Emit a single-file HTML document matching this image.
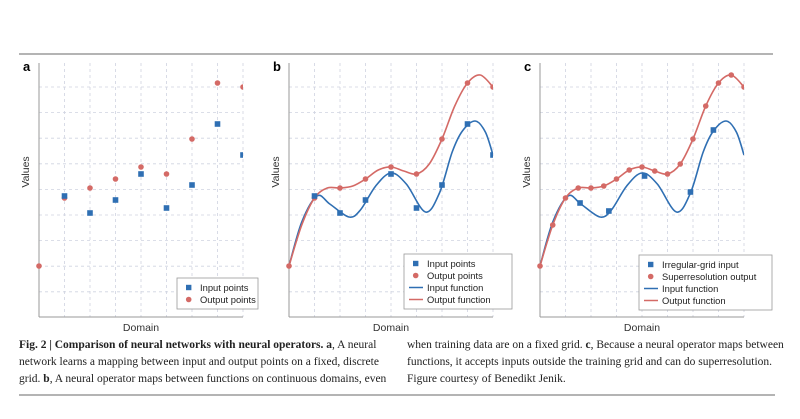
<!DOCTYPE html>
<html><head><meta charset="utf-8"><style>
body{margin:0;width:800px;height:419px;background:#fff;overflow:hidden;position:relative;font-family:"Liberation Sans",sans-serif}
svg{position:absolute;left:0;top:0}
.cap{position:absolute;font-family:"Liberation Serif",serif;font-size:11.5px;line-height:17px;color:#222;white-space:nowrap;letter-spacing:0px}
</style></head><body>
<svg id="s" width="800" height="419" xmlns="http://www.w3.org/2000/svg"></svg>
<div class="cap" style="left:19px;top:337px"><b>Fig. 2 | Comparison of neural networks with neural operators. a</b>, A neural<br>network learns a mapping between input and output points on a fixed, discrete<br>grid. <b>b</b>, A neural operator maps between functions on continuous domains, even</div>
<div class="cap" style="left:407px;top:337px">when training data are on a fixed grid. <b>c</b>, Because a neural operator maps between<br>functions, it accepts inputs outside the training grid and can do superresolution.<br>Figure courtesy of Benedikt Jenik.</div>
<script>
const s=document.getElementById('s');let h='';
const BL='#2f6fb3',RD='#d46a66';
h+='<line x1="19" y1="54" x2="773" y2="54" stroke="#888" stroke-width="1.2"/>';
h+='<line x1="19" y1="395" x2="775" y2="395" stroke="#888" stroke-width="1.2"/>';
const S=25.5,T=63,B=317;
function cr(pts,X0){const P=pts.map(p=>[X0+p[0]*S,p[1]]);let d='M'+P[0][0]+','+P[0][1];
for(let i=0;i<P.length-1;i++){const p0=P[i-1]||P[i],p1=P[i],p2=P[i+1],p3=P[i+2]||P[i+1];
d+=' C'+(p1[0]+(p2[0]-p0[0])/6)+','+(p1[1]+(p2[1]-p0[1])/6)+' '+(p2[0]-(p3[0]-p1[0])/6)+','+(p2[1]-(p3[1]-p1[1])/6)+' '+p2[0]+','+p2[1];}return d;}
const blue=[[0,266],[0.5,222],[1.1,196],[1.6,204],[2.35,217],[2.8,210],[3.4,186],[4.0,173],[4.6,184],[5.35,212],[5.9,193],[6.4,152],[6.8,131],[7.3,121],[7.7,132],[8,155]];
const red=[[0,266],[0.5,225],[1,198],[1.5,188],[2,188],[2.5,186],[3,179],[3.5,170],[4,167],[4.5,171],[5,174],[5.5,164],[6,139],[6.5,106],[7,83],[7.5,75],[8,87]];
const inA=[[1,196],[2,213],[3,200],[4,174],[5,208],[6,185],[7,124],[8,155]];
const outA=[[0,266],[1,198],[2,188],[3,179],[4,167],[5,174],[6,139],[7,83],[8,87]];
const inC=[[1.57,203],[2.7,211],[4.1,176],[5.9,192],[6.8,130]];
function panel(X0,lab,opt){
 h+='<text x="'+(X0-16)+'" y="71" font-weight="bold" font-size="13">'+lab+'</text>';
 for(let k=1;k<=8;k++)h+='<line x1="'+(X0+k*S)+'" y1="'+T+'" x2="'+(X0+k*S)+'" y2="'+B+'" stroke="#cfd3e0" stroke-dasharray="3,3" stroke-width="0.8"/>';
 for(let k=0;k<9;k++){const y=87+k*25.6;h+='<line x1="'+X0+'" y1="'+y+'" x2="'+(X0+8*S)+'" y2="'+y+'" stroke="#cfd3e0" stroke-dasharray="3,3" stroke-width="0.8"/>';}
 h+='<line x1="'+X0+'" y1="'+T+'" x2="'+X0+'" y2="'+B+'" stroke="#999" stroke-width="1"/>';
 h+='<line x1="'+X0+'" y1="'+B+'" x2="'+(X0+8*S)+'" y2="'+B+'" stroke="#999" stroke-width="1"/>';
 h+='<text x="'+(X0+102)+'" y="331" text-anchor="middle" font-size="10.5" fill="#333">Domain</text>';
 h+='<text transform="translate('+(X0-10)+',172) rotate(-90)" text-anchor="middle" font-size="10.5" fill="#333">Values</text>';
 h+='<clipPath id="c'+lab+'"><rect x="'+(X0-4)+'" y="55" width="'+(8*S+4)+'" height="270"/></clipPath><g clip-path="url(#c'+lab+')">';
 if(opt.curves){h+='<path d="'+cr(blue,X0)+'" fill="none" stroke="'+BL+'" stroke-width="1.6"/>';h+='<path d="'+cr(red,X0)+'" fill="none" stroke="'+RD+'" stroke-width="1.6"/>';}
 opt.outs.forEach(p=>h+='<circle cx="'+(X0+p[0]*S)+'" cy="'+p[1]+'" r="2.8" fill="'+RD+'"/>');
 opt.ins.forEach(p=>h+='<rect x="'+(X0+p[0]*S-2.8)+'" y="'+(p[1]-2.8)+'" width="5.6" height="5.6" fill="'+BL+'"/>');
 h+='</g>';
 const L=opt.leg,lx=L.x,ly=L.y;h+='<rect x="'+lx+'" y="'+ly+'" width="'+L.w+'" height="'+(L.items.length*12+7)+'" fill="#fff" stroke="#999" stroke-width="0.8"/>';
 L.items.forEach((it,i)=>{const cy=ly+9.5+i*12;
  if(it[0]=='s')h+='<rect x="'+(lx+9)+'" y="'+(cy-2.7)+'" width="5.4" height="5.4" fill="'+BL+'"/>';
  if(it[0]=='c')h+='<circle cx="'+(lx+11.7)+'" cy="'+cy+'" r="2.8" fill="'+RD+'"/>';
  if(it[0]=='b'||it[0]=='r')h+='<line x1="'+(lx+5)+'" y1="'+cy+'" x2="'+(lx+19)+'" y2="'+cy+'" stroke="'+(it[0]=='b'?BL:RD)+'" stroke-width="1.5"/>';
  h+='<text x="'+(lx+23)+'" y="'+(cy+3.4)+'" font-size="9.4" fill="#222">'+it[1]+'</text>';});
}
panel(39,'a',{curves:false,ins:inA,outs:outA,leg:{x:177,y:278,w:81,items:[['s','Input points'],['c','Output points']]}});
panel(289,'b',{curves:true,ins:inA,outs:outA,leg:{x:404,y:254,w:108,items:[['s','Input points'],['c','Output points'],['b','Input function'],['r','Output function']]}});
panel(540,'c',{curves:true,ins:inC,outs:red,leg:{x:639,y:255,w:133,items:[['s','Irregular-grid input'],['c','Superresolution output'],['b','Input function'],['r','Output function']]}});
s.innerHTML=h;
</script>
</body></html>
